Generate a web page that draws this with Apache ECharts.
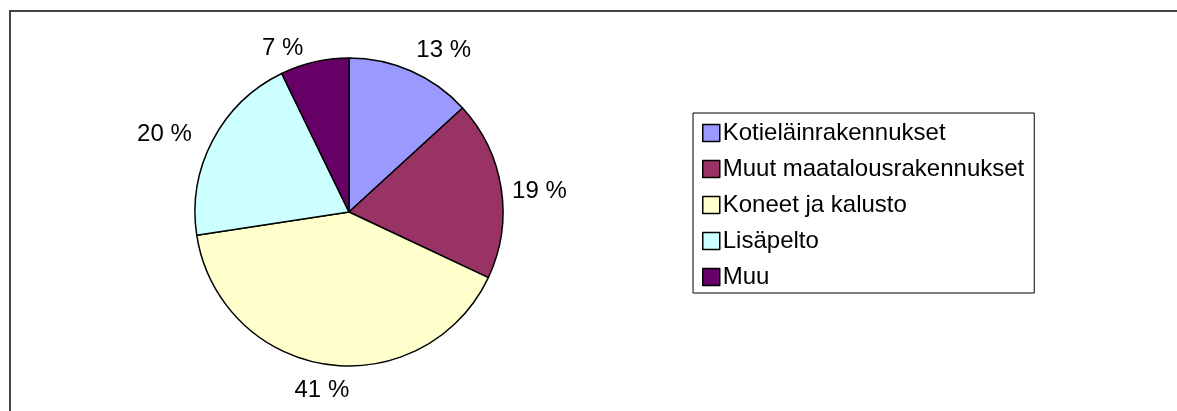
<!DOCTYPE html>
<html>
<head>
<meta charset="utf-8">
<script src="https://cdn.jsdelivr.net/npm/echarts@6/dist/echarts.min.js"></script>
<style>
  html, body { margin: 0; padding: 0; background: #fff; }
</style>
</head>
<body>
<div id="chart" style="width:1177px;height:411px"></div>
<script>
// investointikohteet, osuus (%)
var categories = ['Kotieläinrakennukset', 'Muut maatalousrakennukset', 'Koneet ja kalusto', 'Lisäpelto', 'Muu'];
var shares = [13.2, 18.8, 40.6, 20.2, 7.2];
var sliceColors = ['#9999FF', '#993366', '#FFFFCC', '#CCFFFF', '#660066'];
// pieni siirto prosenttiteksteille (px), jotta ne osuvat kuten Excelissä
var labelNudge = [[-7, -4], [-12, 5], [30, 8], [0, 2], [-2, 4]];

var myChart = echarts.init(document.getElementById('chart'));

var seriesData = [];
categories.forEach(function (name, i) {
  seriesData.push({ name: name, value: shares[i], itemStyle: { color: sliceColors[i] } });
});

var options = {
  animation: false,
  textStyle: { fontFamily: 'Liberation Sans, Arial, sans-serif' },
  graphic: [{
    type: 'polyline',
    shape: { points: [[10, 420], [10, 11], [1190, 11]] },
    style: { fill: null, stroke: '#444', lineWidth: 2 },
    silent: true
  }],
  legend: {
    orient: 'vertical',
    left: 693,
    top: 113,
    data: categories,
    icon: 'rect',
    backgroundColor: '#fff',
    borderColor: '#000',
    borderWidth: 1,
    padding: [8, 10, 4, 9],
    itemWidth: 17,
    itemHeight: 17,
    itemGap: 12,
    itemStyle: { borderColor: '#000', borderWidth: 1.5 },
    textStyle: { fontSize: 24, color: '#000', fontFamily: 'Liberation Sans, Arial, sans-serif', padding: [0, 0, 0, -2] }
  },
  series: [{
    type: 'pie',
    center: [349, 212],
    radius: 154,
    startAngle: 90,
    clockwise: true,
    data: seriesData,
    itemStyle: { borderColor: '#000', borderWidth: 1.5 },
    label: {
      show: true,
      position: 'outside',
      fontSize: 24,
      color: '#000',
      fontFamily: 'Liberation Sans, Arial, sans-serif',
      formatter: function (p) { return Math.round(p.percent) + ' %'; }
    },
    labelLine: { show: false, length: 18, length2: 0 },
    labelLayout: function (params) {
      var n = labelNudge[params.dataIndex];
      return { dx: n[0], dy: n[1] };
    },
    emphasis: { disabled: true }
  }]
};

myChart.setOption(options, true);
</script>
</body>
</html>
